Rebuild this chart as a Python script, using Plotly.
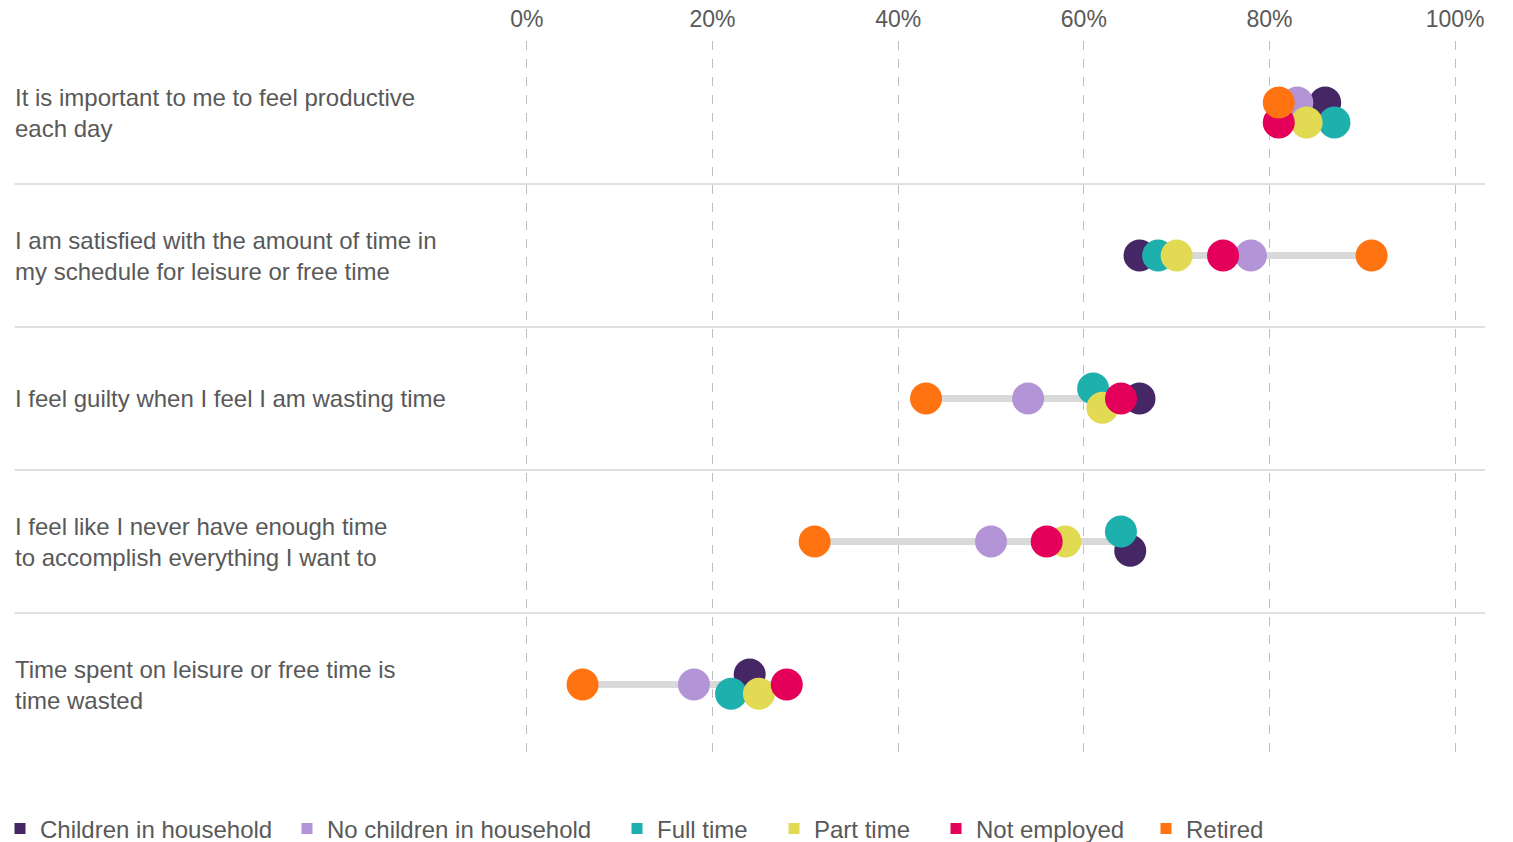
import plotly.graph_objects as go

# Survey statements (rows, top to bottom)
statements = [
    "It is important to me to feel productive<br>each day",
    "I am satisfied with the amount of time in<br>my schedule for leisure or free time",
    "I feel guilty when I feel I am wasting time",
    "I feel like I never have enough time<br>to accomplish everything I want to",
    "Time spent on leisure or free time is<br>time wasted",
]

groups = ["Children in household", "No children in household", "Full time",
          "Part time", "Not employed", "Retired"]

# Share agreeing (%) per statement, one list per group
children_in_household = [86, 66, 66, 65, 24]
no_children_in_household = [83, 78, 54, 50, 18]
full_time = [87, 68, 61, 64, 22]
part_time = [84, 70, 62, 58, 25]
not_employed = [81, 75, 64, 56, 28]
retired = [81, 91, 43, 31, 6]

values = [children_in_household, no_children_in_household, full_time,
          part_time, not_employed, retired]

colors = ["#462766", "#b394d6", "#1db0ad", "#e2da52", "#e4005a", "#ff7311"]

# small vertical nudges (row units) so overlapping dots stay visible
nudges = [
    [-0.07, 0, 0, 0.065, -0.07],
    [-0.07, 0, 0, 0, 0],
    [0.07, 0, -0.07, -0.07, 0.065],
    [0.07, 0, 0.065, 0, 0.065],
    [0.07, 0, 0, 0, 0],
    [-0.07, 0, 0, 0, 0],
]

tick_values = [0, 20, 40, 60, 80, 100]
tick_labels = ["0%", "20%", "40%", "60%", "80%", "100%"]

W, H = 1513, 842
FONT = "Arial, Liberation Sans, sans-serif"
TXT = "#595959"

# x range padded a hair so the 0% and 100% gridlines are drawn
X0, X1 = -0.2, 100.2
PX0, PX1 = 527 - 0.2 * 9.28, 1455 + 0.2 * 9.28
PW = PX1 - PX0


def paper_x(px):
    return (px - PX0) / PW


fig = go.Figure()

# grey range bar for each statement (min to max across groups)
lx, ly = [], []
for i in range(len(statements)):
    row = [v[i] for v in values]
    lx += [min(row), max(row), None]
    ly += [i, i, None]
fig.add_trace(go.Scatter(x=lx, y=ly, mode="lines",
                         line=dict(color="#d9d9d9", width=7),
                         showlegend=False, hoverinfo="skip"))

# dots
for g, v, c, n in zip(groups, values, colors, nudges):
    fig.add_trace(go.Scatter(
        x=v, y=[i + d for i, d in enumerate(n)], mode="markers", name=g,
        marker=dict(size=32, color=c, line=dict(width=0)),
        showlegend=False,
    ))

# legend entries: square swatches, each in its own legend box
legend_left = [15, 307, 637, 794, 956, 1166]
layout_legends = {}
for k, (g, c, px) in enumerate(zip(groups, colors, legend_left)):
    key = "legend" if k == 0 else f"legend{k + 1}"
    fig.add_trace(go.Scatter(
        x=[None], y=[None], mode="markers", name=g,
        marker=dict(symbol="square", size=11, color=c),
        legend=key, showlegend=True,
    ))
    layout_legends[key] = dict(
        x=(px - 20) / W, xref="container", xanchor="left",
        y=1 - 829 / H, yref="container", yanchor="middle",
        orientation="h", bgcolor="rgba(0,0,0,0)",
        font=dict(family=FONT, size=24, color=TXT),
    )

# separators between rows
shapes = []
for i in range(len(statements) - 1):
    shapes.append(dict(type="line", xref="paper", yref="y",
                       x0=paper_x(15), x1=paper_x(1485),
                       y0=i + 0.5, y1=i + 0.5,
                       line=dict(color="#bfbfbf", width=1)))

# row labels
annotations = []
for i, s in enumerate(statements):
    annotations.append(dict(
        text=s, xref="paper", yref="y", x=paper_x(13), y=i,
        xanchor="left", yanchor="middle", align="left", showarrow=False,
        font=dict(family=FONT, size=24, color=TXT),
    ))

fig.update_layout(
    width=W, height=H,
    margin=dict(l=PX0, r=W - PX1, t=41, b=H - 756),
    paper_bgcolor="white", plot_bgcolor="white",
    shapes=shapes, annotations=annotations,
    **layout_legends,
)

fig.update_xaxes(
    range=[X0, X1], side="top", tickvals=tick_values, ticktext=tick_labels,
    showgrid=True, gridcolor="#bfbfbf", griddash="dash", gridwidth=1,
    zeroline=False, showline=False, ticks="", ticklabelstandoff=8,
    automargin=False,
    tickfont=dict(family=FONT, size=23, color=TXT),
)
fig.update_yaxes(
    range=[len(statements) - 0.5, -0.5], showgrid=False, zeroline=False,
    showticklabels=False, showline=False, ticks="", automargin=False,
)

fig.write_html("out.html")
